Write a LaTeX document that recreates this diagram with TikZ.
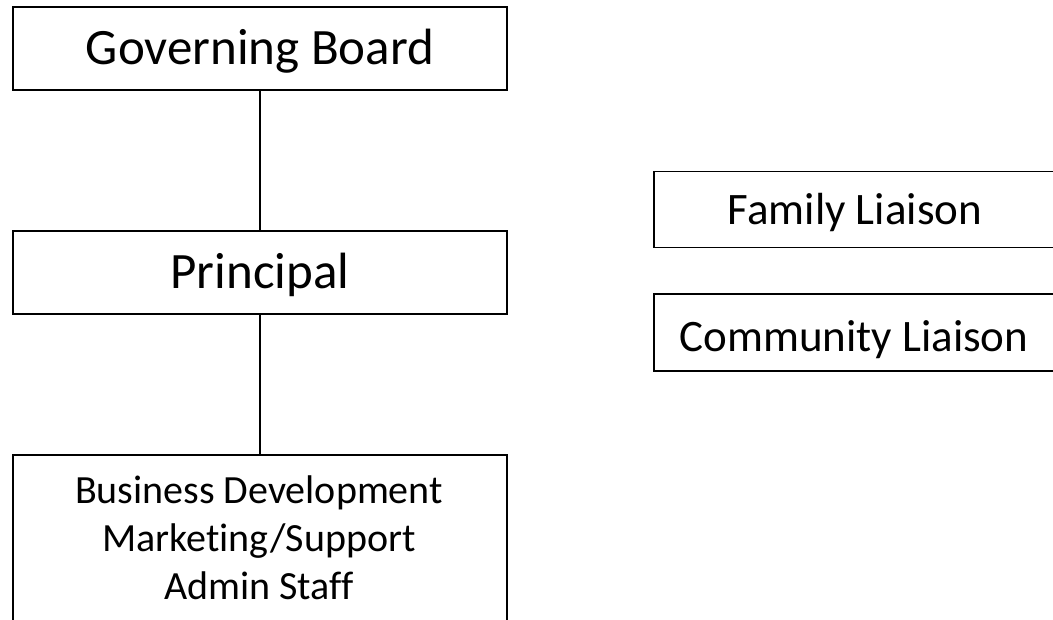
\documentclass[tikz,border=0pt]{standalone}
\usepackage{fontspec}
\setmainfont{Carlito}[Ligatures=NoCommon]
\begin{document}
\begin{tikzpicture}[x=1pt,y=-1pt,
  box/.style={draw=black,line width=1.6pt,rectangle,inner sep=0pt},
  lbl/.style={inner sep=0pt,anchor=base},
  conn/.style={draw=black,line width=1.2pt}]
\useasboundingbox (0,0) rectangle (1053,620);
\clip (0,0) rectangle (1053,620);
\node[box,minimum width=494pt,minimum height=83pt] (gov) at (260,48.5) {};
\node[lbl,font=\fontsize{51}{60}\selectfont] (govtext) at (260,65) {Governing Board};
\node[box,minimum width=494pt,minimum height=83pt] (prin) at (260,272.5) {};
\node[lbl,font=\fontsize{51}{60}\selectfont] (printext) at (260,289) {Principal};
\node[box,minimum width=494pt,minimum height=260pt,anchor=north] (bus) at (260,454) {};
\node[lbl,font=\fontsize{40}{48}\selectfont] (bus1) at (259,503) {Business Development};
\node[lbl,font=\fontsize{40}{48}\selectfont] (bus2) at (259,551) {Marketing/Support};
\node[lbl,font=\fontsize{40}{48}\selectfont] (bus3) at (259,599) {Admin Staff};
\node[box,minimum width=460pt,minimum height=76pt,anchor=west] (fam) at (653,209.5) {};
\node[lbl,font=\fontsize{45}{54}\selectfont] (famtext) at (855,225) {Family Liaison};
\node[box,minimum width=460pt,minimum height=77pt,anchor=west] (com) at (653,332.5) {};
\node[lbl,font=\fontsize{45}{54}\selectfont] (comtext) at (854,352) {Community Liaison};
\draw[conn] (gov.south) -- (prin.north);
\draw[conn] (prin.south) -- (bus.north);
\end{tikzpicture}
\end{document}
